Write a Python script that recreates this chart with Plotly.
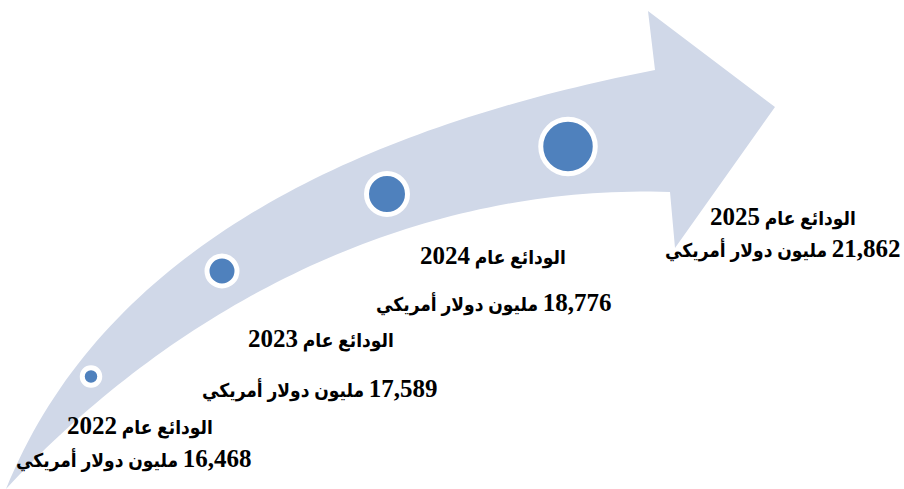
import numpy as np
import plotly.graph_objects as go

# ---- data ----
years = [2022, 2023, 2024, 2025]
deposits = [16468, 17589, 18776, 21862]   # million USD
label_prefix = "الودائع عام"
label_unit = "مليون دولار أمريكي"

# ---- layout constants (pixel space: x right, y down) ----
W, H = 904, 489
marker_x = [91, 222, 387, 568]
marker_y = [376.5, 271, 194, 146.5]
marker_size = [17.5, 30, 41, 54.5]
line1_pos = [(140, 425), (321, 338), (493, 255), (783, 216)]
line2_pos = [(134, 458), (320, 388), (494, 302), (783, 248)]

ARROW = "#D0D8E8"
BLUE = "#4F81BD"
FONT = "'Liberation Serif', 'DejaVu Sans Condensed', 'DejaVu Sans', serif"
AR_SIZE = 19
NUM_SIZE = 25

# arrow outline geometry (traced points, smoothed by a fitted cubic Bezier)
upper = [(6, 489), (20, 467), (28, 452), (47, 414), (68, 378), (107, 330), (150, 284),
         (200, 243), (250, 213), (350, 163), (450, 124), (550, 97), (655, 70)]
lower = [(6, 489), (63, 440), (100, 407), (147, 364), (183, 332), (250, 291),
         (350, 248), (450, 218), (550, 201), (670, 192)]
head = [(648, 11), (775, 107), (675, 248)]


def bezier_fit(pts):
    p = np.array(pts, float)
    d = np.r_[0, np.cumsum(np.hypot(*np.diff(p, axis=0).T))]
    t = d / d[-1]
    b0, b1, b2, b3 = (1 - t) ** 3, 3 * t * (1 - t) ** 2, 3 * t ** 2 * (1 - t), t ** 3
    rhs = p - np.outer(b0, p[0]) - np.outer(b3, p[-1])
    A = np.c_[b1, b2]
    sol, *_ = np.linalg.lstsq(A, rhs, rcond=None)
    return p[0], sol[0], sol[1], p[-1]


def bezier_pts(c, n=80):
    t = np.linspace(0, 1, n)[:, None]
    return ((1 - t) ** 3 * c[0] + 3 * t * (1 - t) ** 2 * c[1]
            + 3 * t ** 2 * (1 - t) * c[2] + t ** 3 * c[3])


up = bezier_pts(bezier_fit(upper))
lo = bezier_pts(bezier_fit(lower))[::-1]
pts = list(up) + [np.array(h, float) for h in head] + list(lo)
path = "M " + " L ".join(f"{x:.1f},{y:.1f}" for x, y in pts) + " Z"

fig = go.Figure()
fig.add_shape(type="path", path=path, xref="x", yref="y", fillcolor=ARROW,
              line=dict(width=0), layer="below")

fig.add_trace(go.Scatter(
    x=marker_x, y=marker_y, mode="markers",
    marker=dict(size=marker_size, color=BLUE, opacity=1,
                line=dict(color="white", width=5)),
    customdata=np.array([years, deposits]).T,
    hovertemplate="%{customdata[0]}: %{customdata[1]:,}<extra></extra>",
    showlegend=False,
))

RLM = "\u200f"


def num(s, prefix=""):
    return (f"<span style='font-size:{NUM_SIZE}px;font-weight:bold'>"
            f"{prefix}{s}</span>")


for yr, val, p1, p2 in zip(years, deposits, line1_pos, line2_pos):
    fig.add_annotation(x=p1[0], y=p1[1], xref="x", yref="y",
                       text=f"<b>{label_prefix} {num(yr)}</b>", showarrow=False,
                       xanchor="center", yanchor="middle",
                       font=dict(family=FONT, size=AR_SIZE, color="black", weight="bold"))
    fig.add_annotation(x=p2[0], y=p2[1], xref="x", yref="y",
                       text=f"<b>{num(f'{val:,}', RLM)} {label_unit}</b>", showarrow=False,
                       xanchor="center", yanchor="middle",
                       font=dict(family=FONT, size=AR_SIZE, color="black", weight="bold"))

fig.update_layout(
    width=W, height=H, margin=dict(l=0, r=0, t=0, b=0),
    paper_bgcolor="white", plot_bgcolor="white",
    xaxis=dict(range=[0, W], visible=False, fixedrange=True),
    yaxis=dict(range=[H, 0], visible=False, fixedrange=True),
)

fig.write_html("out.html", config={"displayModeBar": False},
               post_script="document.body.style.margin='0';")
